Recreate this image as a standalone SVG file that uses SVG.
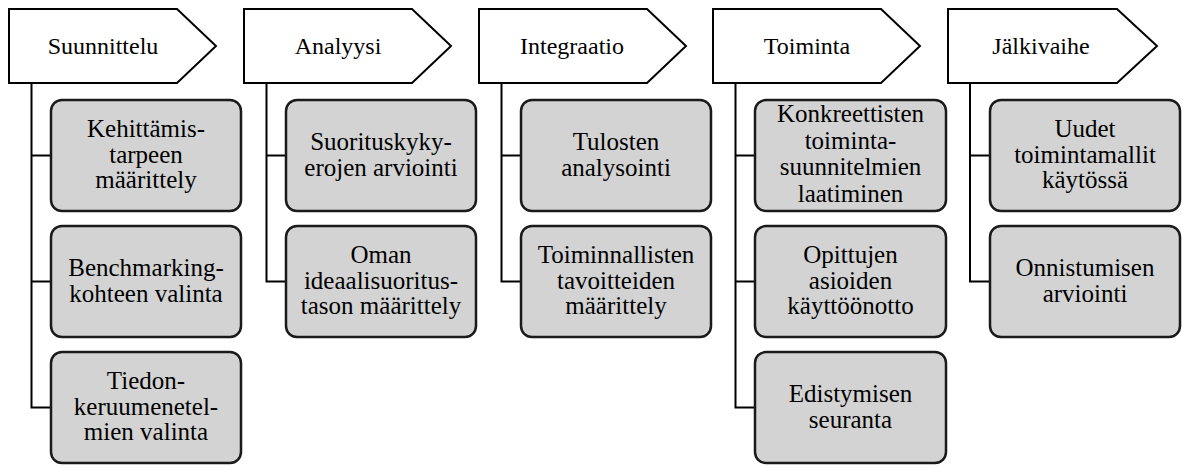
<svg xmlns="http://www.w3.org/2000/svg" width="1183" height="466" viewBox="0 0 1183 466">
  <style>
    .phase { fill: #ffffff; stroke: #000000; stroke-width: 2; stroke-linejoin: miter; }
    .phase-label { font-size: 24px; fill: #000000; text-anchor: middle; }
    .step { fill: #d3d3d3; stroke: #1a1a1a; stroke-width: 2.5; }
    .step-label { font-size: 25px; fill: #000000; text-anchor: middle; }
    .link { fill: none; stroke: #000000; stroke-width: 2; }
  </style>
  <rect x="0" y="0" width="1183" height="466" fill="#ffffff"/>

  <!-- Connectors: each phase spine with branches to its steps -->
  <g id="connectors">
    <path class="link" d="M31.5 83 V407.5 H51 M31.5 155.5 H51 M31.5 281.5 H51"/>
    <path class="link" d="M266.5 83 V281.5 H286 M266.5 155.5 H286"/>
    <path class="link" d="M501.5 83 V281.5 H521 M501.5 155.5 H521"/>
    <path class="link" d="M735.5 83 V407.5 H755 M735.5 155.5 H755 M735.5 281.5 H755"/>
    <path class="link" d="M970 83 V281.5 H990 M970 155.5 H990"/>
  </g>

  <g id="nodes" font-family="Liberation Serif, Times New Roman, Tinos, Noto Serif, DejaVu Serif, serif">
  <!-- Phase headers -->
  <g id="phase-suunnittelu">
    <path class="phase" d="M9 9 H177 L216 46 L177 83 H9 Z"/>
    <text class="phase-label" x="103" y="54">Suunnittelu</text>
  </g>
  <g id="phase-analyysi">
    <path class="phase" d="M244 9 H412 L451 46 L412 83 H244 Z"/>
    <text class="phase-label" x="338" y="54">Analyysi</text>
  </g>
  <g id="phase-integraatio">
    <path class="phase" d="M479 9 H647 L686 46 L647 83 H479 Z"/>
    <text class="phase-label" x="572" y="54">Integraatio</text>
  </g>
  <g id="phase-toiminta">
    <path class="phase" d="M713 9 H881 L920 46 L881 83 H713 Z"/>
    <text class="phase-label" x="807" y="54">Toiminta</text>
  </g>
  <g id="phase-jalkivaihe">
    <path class="phase" d="M948 9 H1117 L1157 46 L1117 83 H948 Z"/>
    <text class="phase-label" x="1041" y="54">Jälkivaihe</text>
  </g>

  <!-- Suunnittelu steps -->
  <g id="step-kehittamistarpeen">
    <rect class="step" x="51" y="100" width="190" height="111" rx="11"/>
    <text class="step-label" x="146" y="137">
      <tspan x="146">Kehittämis-</tspan><tspan x="146" dy="25.5">tarpeen</tspan><tspan x="146" dy="25.5">määrittely</tspan>
    </text>
  </g>
  <g id="step-benchmarking">
    <rect class="step" x="51" y="226" width="190" height="111" rx="11"/>
    <text class="step-label" x="146" y="276">
      <tspan x="146">Benchmarking-</tspan><tspan x="146" dy="26">kohteen valinta</tspan>
    </text>
  </g>
  <g id="step-tiedonkeruu">
    <rect class="step" x="51" y="352" width="190" height="111" rx="11"/>
    <text class="step-label" x="146" y="389">
      <tspan x="146">Tiedon-</tspan><tspan x="146" dy="25.5">keruumenetel-</tspan><tspan x="146" dy="25.5">mien valinta</tspan>
    </text>
  </g>

  <!-- Analyysi steps -->
  <g id="step-suorituskyky">
    <rect class="step" x="286" y="100" width="190" height="111" rx="11"/>
    <text class="step-label" x="381" y="150">
      <tspan x="381">Suorituskyky-</tspan><tspan x="381" dy="26">erojen arviointi</tspan>
    </text>
  </g>
  <g id="step-ideaalisuoritus">
    <rect class="step" x="286" y="226" width="190" height="111" rx="11"/>
    <text class="step-label" x="381" y="263">
      <tspan x="381">Oman</tspan><tspan x="381" dy="25.5">ideaalisuoritus-</tspan><tspan x="381" dy="25.5">tason määrittely</tspan>
    </text>
  </g>

  <!-- Integraatio steps -->
  <g id="step-tulosten">
    <rect class="step" x="521" y="100" width="190" height="111" rx="11"/>
    <text class="step-label" x="616" y="150">
      <tspan x="616">Tulosten</tspan><tspan x="616" dy="26">analysointi</tspan>
    </text>
  </g>
  <g id="step-tavoitteiden">
    <rect class="step" x="521" y="226" width="190" height="111" rx="11"/>
    <text class="step-label" x="616" y="263">
      <tspan x="616">Toiminnallisten</tspan><tspan x="616" dy="25.5">tavoitteiden</tspan><tspan x="616" dy="25.5">määrittely</tspan>
    </text>
  </g>

  <!-- Toiminta steps -->
  <g id="step-suunnitelmat">
    <rect class="step" x="755" y="100" width="191" height="111" rx="11"/>
    <text class="step-label" x="850.5" y="122">
      <tspan x="850.5">Konkreettisten</tspan><tspan x="850.5" dy="26.5">toiminta-</tspan><tspan x="850.5" dy="26.5">suunnitelmien</tspan><tspan x="850.5" dy="26.5">laatiminen</tspan>
    </text>
  </g>
  <g id="step-kayttoonotto">
    <rect class="step" x="755" y="226" width="191" height="111" rx="11"/>
    <text class="step-label" x="850.5" y="263">
      <tspan x="850.5">Opittujen</tspan><tspan x="850.5" dy="25.5">asioiden</tspan><tspan x="850.5" dy="25.5">käyttöönotto</tspan>
    </text>
  </g>
  <g id="step-seuranta">
    <rect class="step" x="755" y="352" width="191" height="111" rx="11"/>
    <text class="step-label" x="850.5" y="402">
      <tspan x="850.5">Edistymisen</tspan><tspan x="850.5" dy="26">seuranta</tspan>
    </text>
  </g>

  <!-- Jälkivaihe steps -->
  <g id="step-toimintamallit">
    <rect class="step" x="990" y="100" width="190" height="111" rx="11"/>
    <text class="step-label" x="1085" y="137">
      <tspan x="1085">Uudet</tspan><tspan x="1085" dy="25.5">toimintamallit</tspan><tspan x="1085" dy="25.5">käytössä</tspan>
    </text>
  </g>
  <g id="step-onnistuminen">
    <rect class="step" x="990" y="226" width="190" height="111" rx="11"/>
    <text class="step-label" x="1085" y="276">
      <tspan x="1085">Onnistumisen</tspan><tspan x="1085" dy="26">arviointi</tspan>
    </text>
  </g>
  </g>
</svg>
